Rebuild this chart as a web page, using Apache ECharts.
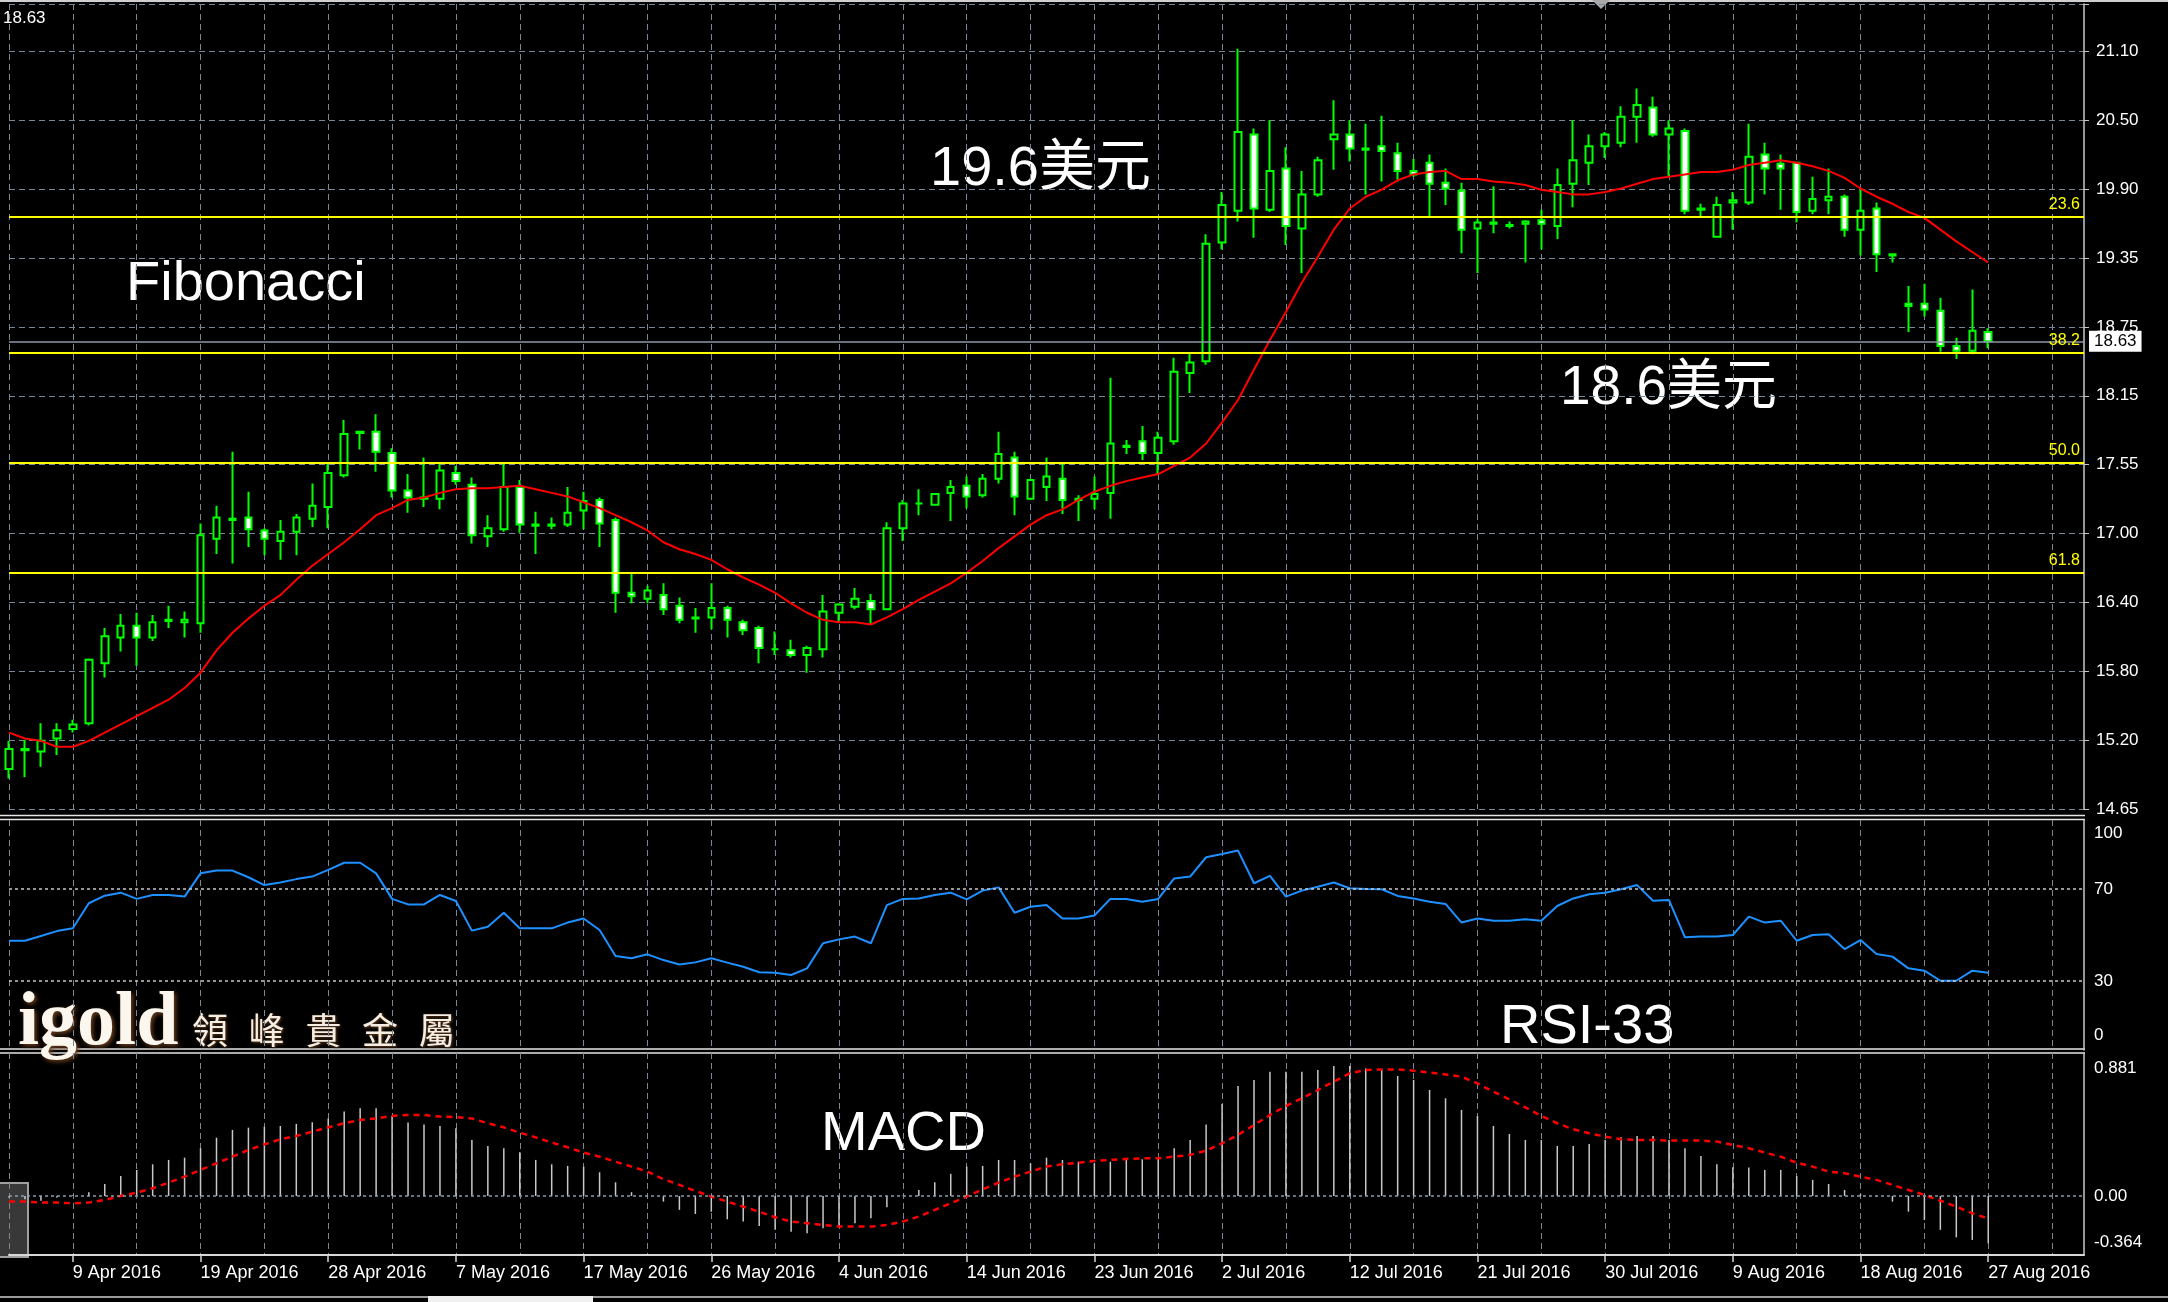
<!DOCTYPE html>
<html><head><meta charset="utf-8">
<script src="https://cdn.jsdelivr.net/npm/echarts@6.0.0/dist/echarts.min.js"></script>
<style>html,body{margin:0;padding:0;background:#000;overflow:hidden}#c{width:2168px;height:1302px}</style>
</head><body><div id="c"></div>
<script>
// ---- categories (trading days, Sundays skipped) ----
const monthDays = [
  ['Apr', [5,6,7,8,9,11,12,13,14,15,16,18,19,20,21,22,23,25,26,27,28,29,30]],
  ['May', [2,3,4,5,6,7,9,10,11,12,13,14,16,17,18,19,20,21,23,24,25,26,27,28,30,31]],
  ['Jun', [1,2,3,4,6,7,8,9,10,11,13,14,15,16,17,18,20,21,22,23,24,25,27,28,29,30]],
  ['Jul', [1,2,4,5,6,7,8,9,11,12,13,14,15,16,18,19,20,21,22,23,25,26,27,28,29,30]],
  ['Aug', [1,2,3,4,5,6,8,9,10,11,12,13,15,16,17,18,19,20,22,23,24,25,26,27,29,30,31]],
  ['Sep', [1,2,3]]
];
const categories = [];
monthDays.forEach(([m, ds]) => ds.forEach(d => categories.push(d + ' ' + m + ' 2016')));

// ---- price data ----
const opens = [14.99,15.15,15.14,15.25,15.33,15.38,15.89,16.11,16.21,16.11,
16.25,16.24,16.23,16.95,17.11,17.13,17.02,16.93,17.01,17.12,
17.22,17.49,17.85,17.86,17.68,17.36,17.30,17.29,17.51,17.41,
16.97,17.03,17.39,17.06,17.06,17.07,17.19,17.28,17.11,16.49,
16.44,16.47,16.38,16.28,16.28,16.36,16.24,16.19,16.01,16.00,
15.96,16.01,16.32,16.37,16.42,16.35,17.04,17.25,17.24,17.34,
17.40,17.32,17.46,17.64,17.29,17.39,17.46,17.29,17.29,17.34,
17.73,17.78,17.68,17.78,18.36,18.46,19.47,19.74,20.39,19.75,
20.10,19.59,19.88,20.35,20.39,20.27,20.29,20.23,20.08,20.15,
19.98,19.91,19.59,19.63,19.61,19.63,19.66,19.61,19.97,20.15,
20.29,20.32,20.54,20.62,20.39,20.42,19.75,19.52,19.81,19.81,
20.22,20.14,20.15,19.74,19.83,19.86,19.58,19.76,19.37,18.95,
18.95,18.89,18.59,18.55,18.71];
const highs = [15.23,15.24,15.38,15.38,15.41,15.93,16.19,16.31,16.32,16.30,
16.38,16.33,17.08,17.23,17.69,17.35,17.04,17.11,17.16,17.42,
17.59,17.96,17.86,18.01,17.72,17.50,17.64,17.59,17.57,17.47,
17.15,17.59,17.45,17.18,17.13,17.39,17.35,17.30,17.13,16.66,
16.55,16.57,16.45,16.36,16.57,16.38,16.26,16.21,16.16,16.09,
16.04,16.47,16.40,16.53,16.48,17.09,17.28,17.37,17.34,17.45,
17.48,17.50,17.86,17.69,17.46,17.64,17.59,17.32,17.48,18.32,
17.79,17.91,17.86,18.49,18.53,19.54,19.90,21.12,20.44,20.51,
20.28,20.08,20.20,20.68,20.51,20.48,20.55,20.32,20.18,20.22,
20.10,19.98,19.67,19.95,19.65,19.66,19.75,20.10,20.51,20.39,
20.41,20.63,20.78,20.71,20.51,20.44,19.80,19.86,19.90,20.48,
20.32,20.22,20.15,20.03,20.10,19.88,19.92,19.81,19.38,19.10,
19.12,19.00,18.66,19.07,18.74];
const lows = [14.91,14.92,15.01,15.11,15.30,15.36,15.77,15.99,15.87,16.08,
16.19,16.11,16.15,16.82,16.74,16.88,16.81,16.77,16.81,17.05,
17.04,17.47,17.71,17.52,17.30,17.17,17.22,17.20,17.41,16.91,
16.88,17.01,17.00,16.82,17.03,17.05,17.03,16.88,16.32,16.40,
16.40,16.30,16.23,16.15,16.18,16.11,16.13,15.89,15.96,15.94,
15.81,15.94,16.24,16.35,16.22,16.35,16.93,17.15,17.23,17.10,
17.21,17.30,17.42,17.15,17.29,17.27,17.16,17.10,17.20,17.12,
17.67,17.62,17.50,17.75,18.19,18.43,19.41,19.65,19.51,19.73,
19.45,19.21,19.86,20.09,20.16,19.88,19.99,19.99,20.03,19.69,
19.79,19.38,19.21,19.55,19.59,19.30,19.41,19.50,19.77,19.96,
20.19,20.28,20.32,20.37,20.03,19.71,19.69,19.51,19.58,19.79,
19.88,19.75,19.64,19.71,19.71,19.52,19.36,19.22,19.30,18.71,
18.84,18.54,18.48,18.52,18.57];
const closes = [15.16,15.16,15.23,15.32,15.37,15.92,16.12,16.21,16.11,16.24,
16.26,16.26,16.98,17.13,17.12,17.03,16.95,17.01,17.13,17.23,
17.51,17.84,17.86,17.69,17.36,17.30,17.29,17.53,17.44,16.98,
17.04,17.39,17.07,17.07,17.07,17.17,17.27,17.08,16.49,16.46,
16.51,16.35,16.26,16.27,16.36,16.26,16.17,16.02,16.01,15.96,
16.02,16.33,16.39,16.44,16.35,17.04,17.25,17.25,17.33,17.39,
17.31,17.46,17.67,17.31,17.45,17.48,17.28,17.28,17.33,17.76,
17.74,17.68,17.81,18.37,18.45,19.46,19.79,20.41,19.76,20.08,
19.61,19.88,20.17,20.39,20.27,20.26,20.25,20.08,20.05,19.97,
19.93,19.58,19.64,19.64,19.62,19.65,19.63,19.96,20.17,20.29,
20.39,20.54,20.64,20.39,20.44,19.74,19.76,19.79,19.83,20.20,
20.10,20.10,19.73,19.84,19.86,19.58,19.74,19.37,19.36,18.93,
18.90,18.59,18.55,18.72,18.63];
const maValues = [15.30,15.25,15.23,15.18,15.18,15.23,15.30,15.37,15.44,15.51,
15.58,15.68,15.81,16.00,16.15,16.27,16.38,16.47,16.60,16.72,
16.82,16.92,17.03,17.15,17.21,17.28,17.30,17.34,17.37,17.38,
17.38,17.39,17.40,17.37,17.34,17.31,17.26,17.21,17.15,17.09,
17.02,16.92,16.86,16.82,16.77,16.69,16.62,16.56,16.49,16.40,
16.32,16.26,16.24,16.24,16.22,16.28,16.35,16.43,16.50,16.57,
16.66,16.76,16.87,16.97,17.07,17.15,17.20,17.28,17.35,17.40,
17.44,17.47,17.50,17.57,17.64,17.76,17.94,18.13,18.39,18.64,
18.88,19.13,19.35,19.58,19.76,19.86,19.92,20.00,20.05,20.07,
20.08,20.01,20.01,19.99,19.98,19.96,19.92,19.90,19.88,19.88,
19.90,19.93,19.97,20.01,20.03,20.05,20.07,20.07,20.09,20.13,
20.15,20.17,20.15,20.12,20.08,20.02,19.93,19.86,19.80,19.73,
19.68,19.58,19.48,19.39,19.30];

// ---- indicators ----
const rsiValues = [47.5,47.5,49.6,51.7,52.9,63.8,67.1,68.4,65.7,67.4,
67.4,66.7,76.8,78.0,78.0,75.1,71.7,72.8,74.3,75.4,
78.3,81.4,81.4,76.8,65.7,63.3,63.3,67.4,64.8,51.9,
53.6,59.7,52.9,52.9,52.9,55.4,57.2,52.2,40.9,39.9,
41.6,39.1,37.2,38.1,39.9,38.0,36.2,33.8,33.6,32.6,
35.5,46.4,48.1,49.3,46.4,63.0,65.7,65.9,67.4,68.4,
65.5,69.3,70.7,59.7,62.3,63.0,57.2,57.2,58.5,65.7,
65.7,64.5,65.7,74.6,75.4,83.8,85.2,86.7,72.5,75.7,
66.7,69.3,71.0,72.8,70.3,70.0,69.9,67.0,65.9,64.5,
63.5,55.4,57.2,56.2,56.2,56.8,56.2,62.6,65.9,67.7,
68.4,69.9,71.7,64.9,65.2,49.0,49.3,49.3,50.0,58.0,
55.4,56.2,47.5,50.0,50.3,43.9,47.8,41.7,40.6,35.5,
34.5,30.1,30.1,34.5,33.6];
const macdHist = [-0.01,-0.02,-0.03,-0.01,0.005,0.023,0.074,0.123,0.16,0.195,
0.222,0.236,0.294,0.359,0.407,0.421,0.427,0.431,0.444,0.454,
0.478,0.52,0.54,0.54,0.493,0.452,0.441,0.431,0.417,0.345,
0.308,0.294,0.269,0.222,0.195,0.185,0.181,0.146,0.084,0.023,
-0.004,-0.035,-0.086,-0.111,-0.097,-0.144,-0.158,-0.185,-0.209,-0.22,
-0.23,-0.199,-0.193,-0.168,-0.138,-0.07,0.002,0.037,0.084,0.136,
0.181,0.185,0.222,0.222,0.201,0.236,0.222,0.211,0.201,0.211,
0.222,0.226,0.232,0.294,0.345,0.441,0.567,0.678,0.715,0.766,
0.766,0.766,0.776,0.801,0.801,0.786,0.78,0.739,0.715,0.653,
0.602,0.53,0.493,0.431,0.382,0.345,0.345,0.308,0.308,0.32,
0.345,0.361,0.37,0.37,0.345,0.294,0.246,0.195,0.177,0.175,
0.16,0.16,0.123,0.099,0.074,0.037,0.01,-0.005,-0.035,-0.097,
-0.148,-0.209,-0.255,-0.271,-0.292];
const macdSignal = [-0.035,-0.035,-0.041,-0.041,-0.045,-0.041,-0.025,0,0.021,0.047,
0.082,0.119,0.16,0.201,0.242,0.283,0.318,0.349,0.37,0.396,
0.423,0.448,0.468,0.478,0.493,0.499,0.499,0.489,0.485,0.478,
0.448,0.423,0.39,0.361,0.329,0.3,0.267,0.242,0.211,0.181,
0.15,0.103,0.068,0.031,-0.004,-0.035,-0.066,-0.097,-0.131,-0.158,
-0.168,-0.179,-0.189,-0.189,-0.189,-0.179,-0.158,-0.127,-0.086,-0.045,
-0.004,0.041,0.082,0.119,0.15,0.181,0.195,0.205,0.216,0.222,
0.228,0.232,0.232,0.242,0.253,0.279,0.324,0.376,0.437,0.499,
0.554,0.602,0.653,0.704,0.756,0.776,0.78,0.78,0.772,0.76,
0.749,0.735,0.694,0.643,0.595,0.546,0.493,0.448,0.411,0.386,
0.366,0.349,0.345,0.345,0.341,0.341,0.341,0.335,0.314,0.294,
0.267,0.242,0.205,0.181,0.15,0.14,0.119,0.099,0.068,0.037,
0.006,-0.029,-0.066,-0.107,-0.14];

// ---- levels / tick labels ----
const priceTickLabels = ['14.65','15.20','15.80','16.40','17.00','17.55','18.15','18.75','19.35','19.90','20.50','21.10'];
const fibLevels = [19.688, 18.534, 17.599, 16.663];
const fibNames = ['23.6', '38.2', '50.0', '61.8'];
const bidPrice = 18.63;
const rsiLevels = [30, 70];
const rsiTickLabels = [0, 30, 70, 100];
const macdMin = -0.364, macdMax = 0.881;

const ohlc = opens.map((o, i) => [o, closes[i], lows[i], highs[i]]);

const FONT = '"Liberation Sans", Arial, "Noto Sans CJK SC", sans-serif';
const GRIDC = '#778899';
const dash = [6, 4];
const lbl = {color: '#ffffff', fontSize: 17, fontFamily: FONT};

function xAxisFor(gi, showLabels) {
  return {
    type: 'category', gridIndex: gi, data: categories, boundaryGap: false,
    axisLine: {show: showLabels, onZero: false, lineStyle: {color: '#d8d8d8', width: 2}},
    axisTick: {show: showLabels, length: 7, interval: i => (i - 4) % 8 === 0, lineStyle: {color: '#d8d8d8', width: 1.5}},
    axisLabel: {show: showLabels, interval: i => (i - 4) % 8 === 0, align: 'left', margin: 9,
      color: '#ffffff', fontSize: 18, fontFamily: FONT},
    splitLine: {show: true, interval: i => i % 4 === 0, lineStyle: {color: GRIDC, type: dash, width: 1}}
  };
}

const chart = echarts.init(document.getElementById('c'), null, {renderer: 'canvas'});
chart.setOption({
  backgroundColor: '#000000',
  animation: false,
  textStyle: {fontFamily: FONT},
  grid: [
    {left: 9, top: 4, width: 2075, height: 805},
    {left: 9, top: 820, width: 2075, height: 230},
    {left: 9, top: 1053, width: 2075, height: 202}
  ],
  xAxis: [xAxisFor(0, false), xAxisFor(1, false), xAxisFor(2, true)],
  yAxis: [
    {type: 'value', gridIndex: 0, position: 'right', min: 14.65, max: 21.5, interval: 0.586,
      axisLine: {show: true, onZero: false, lineStyle: {color: '#c8c8c8', width: 1.5}},
      axisTick: {show: true, length: 5, lineStyle: {color: '#c8c8c8'}},
      axisLabel: Object.assign({margin: 12, formatter: v => priceTickLabels[Math.round((v - 14.65) / 0.586)] || ''}, lbl),
      splitLine: {show: true, lineStyle: {color: GRIDC, type: dash, width: 1}}},
    {type: 'value', gridIndex: 1, position: 'right', min: 0, max: 100, interval: 10,
      axisLine: {show: true, onZero: false, lineStyle: {color: '#c8c8c8', width: 1.5}},
      axisTick: {show: false},
      axisLabel: Object.assign({margin: 10,
        formatter: v => v === 100 ? '{t|100}' : v === 0 ? '{b|0}' : (rsiTickLabels.indexOf(v) >= 0 ? String(v) : ''),
        rich: {t: Object.assign({padding: [26, 0, 0, 0]}, lbl), b: Object.assign({padding: [0, 0, 30, 0]}, lbl)}}, lbl),
      splitLine: {show: false}},
    {type: 'value', gridIndex: 2, position: 'right', min: macdMin, max: macdMax, interval: 0.364,
      axisLine: {show: true, onZero: false, lineStyle: {color: '#c8c8c8', width: 1.5}},
      axisTick: {show: false},
      axisLabel: Object.assign({margin: 10,
        formatter: v => Math.abs(v - macdMax) < 1e-6 ? '{t|0.881}' : Math.abs(v) < 1e-6 ? '0.00' : Math.abs(v - macdMin) < 1e-6 ? '{b|-0.364}' : '',
        rich: {t: Object.assign({padding: [30, 0, 0, 0]}, lbl), b: Object.assign({padding: [0, 0, 26, 0]}, lbl)}}, lbl),
      splitLine: {show: false}}
  ],
  series: [
    {type: 'candlestick', xAxisIndex: 0, yAxisIndex: 0, data: ohlc, barWidth: 7, clip: false, z: 2,
      itemStyle: {color: '#000000', color0: '#ffffff', borderColor: '#00ff00', borderColor0: '#00ff00', borderWidth: 2},
      markLine: {silent: true, symbol: ['none', 'none'], animation: false,
        data: fibLevels.map((v, k) => ({yAxis: v, lineStyle: {color: '#ffff00', width: 2, type: 'solid'},
          label: {show: true, position: 'insideEndTop', formatter: fibNames[k], color: '#ffff00', fontSize: 16, fontFamily: FONT, distance: 4}}))
          .concat([{yAxis: bidPrice, lineStyle: {color: '#8b9aaa', width: 1.5, type: 'solid'},
            label: {show: true, position: 'end', formatter: bidPrice.toFixed(2), color: '#000', backgroundColor: '#ffffff',
              fontSize: 17, fontFamily: FONT, padding: [2, 5, 2, 5], distance: 5}}])}},
    {type: 'line', xAxisIndex: 0, yAxisIndex: 0, data: maValues, symbol: 'none', z: 4,
      lineStyle: {color: '#ff0000', width: 2}},
    {type: 'line', xAxisIndex: 1, yAxisIndex: 1, data: rsiValues, symbol: 'none', z: 3,
      lineStyle: {color: '#1e90ff', width: 2},
      markLine: {silent: true, symbol: ['none', 'none'], label: {show: false},
        lineStyle: {color: '#c8c8c8', type: [3, 3], width: 1.5},
        data: rsiLevels.map(v => ({yAxis: v}))}},
    {type: 'bar', xAxisIndex: 2, yAxisIndex: 2, data: macdHist, barWidth: 1.5, z: 2,
      itemStyle: {color: '#c8c8c8'},
      markLine: {silent: true, symbol: ['none', 'none'], label: {show: false},
        lineStyle: {color: '#8a9aaa', type: [3, 3], width: 1.5}, data: [{yAxis: 0}]}},
    {type: 'line', xAxisIndex: 2, yAxisIndex: 2, data: macdSignal, symbol: 'none', z: 4,
      lineStyle: {color: '#ff0000', width: 2.5, type: [6, 5]}}
  ],
  graphic: [
    {type: 'line', silent: true, shape: {x1: 0, y1: 1, x2: 2168, y2: 1}, style: {stroke: '#cfcfcf', lineWidth: 2}},
    {type: 'line', silent: true, shape: {x1: 0, y1: 815.5, x2: 2085, y2: 815.5}, style: {stroke: '#e6e6e6', lineWidth: 1.5}},
    {type: 'line', silent: true, shape: {x1: 0, y1: 819.5, x2: 2085, y2: 819.5}, style: {stroke: '#e6e6e6', lineWidth: 1.5}},
    {type: 'line', silent: true, shape: {x1: 0, y1: 1049, x2: 2085, y2: 1049}, style: {stroke: '#e6e6e6', lineWidth: 1.5}},
    {type: 'line', silent: true, shape: {x1: 0, y1: 1053, x2: 2085, y2: 1053}, style: {stroke: '#e6e6e6', lineWidth: 1.5}},
    {type: 'line', silent: true, shape: {x1: 0, y1: 1297, x2: 2168, y2: 1297}, style: {stroke: '#9a9a9a', lineWidth: 2}},
    {type: 'rect', silent: true, shape: {x: 428, y: 1296, width: 165, height: 6}, style: {fill: '#f0f0f0'}},
    {type: 'polygon', silent: true, shape: {points: [[1592, 0], [1610, 0], [1601, 9]]}, style: {fill: '#a8a8a8'}},
    {type: 'rect', silent: true, shape: {x: -2, y: 1183, width: 30, height: 74}, style: {fill: '#383838', stroke: '#a0a0a0', lineWidth: 2}},
    {type: 'text', silent: true, style: {text: '18.63', x: 3, y: 18, fill: '#ffffff', font: '17px ' + FONT, align: 'left', verticalAlign: 'middle', textAlign: 'left', textVerticalAlign: 'middle'}},
    {type: 'text', silent: true, style: {text: 'Fibonacci', x: 126, y: 285, fill: '#ffffff', font: '56px ' + FONT, align: 'left', verticalAlign: 'middle', textAlign: 'left', textVerticalAlign: 'middle'}},
    {type: 'text', silent: true, style: {text: '19.6美元', x: 930, y: 170, fill: '#ffffff', font: '56px ' + FONT, align: 'left', verticalAlign: 'middle', textAlign: 'left', textVerticalAlign: 'middle'}},
    {type: 'text', silent: true, style: {text: '18.6美元', x: 1560, y: 389, fill: '#ffffff', font: '55px ' + FONT, align: 'left', verticalAlign: 'middle', textAlign: 'left', textVerticalAlign: 'middle'}},
    {type: 'text', silent: true, style: {text: 'RSI-33', x: 1500, y: 1028, fill: '#ffffff', font: '56px ' + FONT, align: 'left', verticalAlign: 'middle', textAlign: 'left', textVerticalAlign: 'middle'}},
    {type: 'text', silent: true, style: {text: 'MACD', x: 821, y: 1135, fill: '#ffffff', font: '56px ' + FONT, align: 'left', verticalAlign: 'middle', textAlign: 'left', textVerticalAlign: 'middle'}},
    {type: 'text', silent: true, style: {text: 'igold', x: 18, y: 1024, fill: '#fbf6ee', font: 'bold 76px "Liberation Serif", "DejaVu Serif", serif',
      align: 'left', verticalAlign: 'middle', textAlign: 'left', textVerticalAlign: 'middle', textShadowColor: '#6b3f1d', textShadowBlur: 4, textShadowOffsetX: 2, textShadowOffsetY: 2}},
    ...['領','峰','貴','金','屬'].map((ch, k) => ({type: 'text', silent: true,
      style: {text: ch, x: 210 + 56.7 * k, y: 1030, fill: '#f4eee4', font: '36px "Noto Sans CJK TC", "Noto Sans CJK SC", sans-serif',
        align: 'center', verticalAlign: 'middle', textAlign: 'center', textVerticalAlign: 'middle', textShadowColor: '#6b3f1d', textShadowBlur: 3, textShadowOffsetX: 1, textShadowOffsetY: 1}}))
  ]
});
</script>
</body></html>
